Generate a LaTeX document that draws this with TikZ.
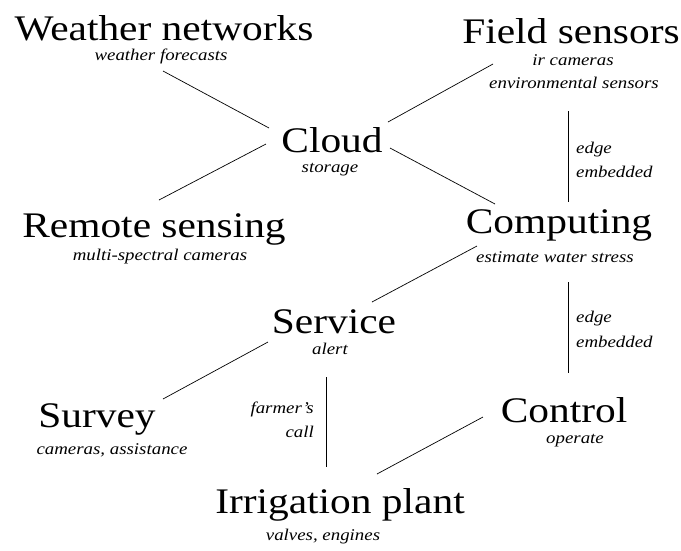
\documentclass[tikz,border=0pt]{standalone}
\usepackage{fontspec}
\setmainfont{Liberation Serif}[FakeStretch=1.15]
\begin{document}
\begin{tikzpicture}[x=1pt,y=-1pt,
  ttl/.style={anchor=base,inner sep=0pt,font=\fontsize{36}{42}\selectfont},
  sub/.style={anchor=base,inner sep=0pt,font=\fontsize{16.4}{19}\selectfont\itshape},
  lbl/.style={anchor=base west,inner sep=0pt,font=\fontsize{16.4}{19}\selectfont\itshape},
  conn/.style={line width=0.7pt}]
\useasboundingbox (0,0) rectangle (681,550);
% titles
\node[ttl] (weather) at (164,40) {Weather networks};
\node[sub] (weathers) at (161,60) {weather forecasts};
\node[ttl] (field) at (571,43) {Field sensors};
\node[sub] (fields1) at (573,65) {ir cameras};
\node[sub] (fields2) at (574,88) {environmental sensors};
\node[ttl] (cloud) at (332,152) {Cloud};
\node[sub] (clouds) at (330,172) {storage};
\node[ttl] (remote) at (154,237) {Remote sensing};
\node[sub] (remotes) at (160,260) {multi-spectral cameras};
\node[ttl] (computing) at (559,233) {Computing};
\node[sub] (computings) at (555,262) {estimate water stress};
\node[ttl] (service) at (334,333) {Service};
\node[sub] (services) at (330,354) {alert};
\node[ttl] (survey) at (97,427) {Survey};
\node[sub] (surveys) at (112,454) {cameras, assistance};
\node[ttl] (control) at (564,422) {Control};
\node[sub] (controls) at (575,443) {operate};
\node[ttl] (irrigation) at (340,513) {Irrigation plant};
\node[sub] (irrigations) at (323,540) {valves, engines};
% edge labels
\node[lbl] (e1a) at (576,153) {edge};
\node[lbl] (e1b) at (576,177) {embedded};
\node[lbl] (e2a) at (576,322) {edge};
\node[lbl] (e2b) at (576,347) {embedded};
\node[lbl,anchor=base east] (fa) at (314,413) {farmer's};
\node[lbl,anchor=base east] (fb) at (314,437) {call};
% connector ends
\coordinate (wc1) at (163,71);  \coordinate (wc2) at (269,128);
\coordinate (rc1) at (159,200); \coordinate (rc2) at (266,144);
\coordinate (fc1) at (493,64);  \coordinate (fc2) at (388,122);
\coordinate (cc1) at (390,148); \coordinate (cc2) at (495,204);
\coordinate (fv1) at (568,111); \coordinate (fv2) at (568,202);
\coordinate (cs1) at (477,246); \coordinate (cs2) at (372,302);
\coordinate (cv1) at (568,282); \coordinate (cv2) at (568,373);
\coordinate (ss1) at (268,342); \coordinate (ss2) at (163,399);
\coordinate (sv1) at (326,377); \coordinate (sv2) at (326,467);
\coordinate (ci1) at (483,417); \coordinate (ci2) at (377,474);
\draw[conn] (wc1) -- (wc2);
\draw[conn] (rc1) -- (rc2);
\draw[conn] (fc1) -- (fc2);
\draw[conn] (cc1) -- (cc2);
\draw[conn] (fv1) -- (fv2);
\draw[conn] (cs1) -- (cs2);
\draw[conn] (cv1) -- (cv2);
\draw[conn] (ss1) -- (ss2);
\draw[conn] (sv1) -- (sv2);
\draw[conn] (ci1) -- (ci2);
\end{tikzpicture}
\end{document}
